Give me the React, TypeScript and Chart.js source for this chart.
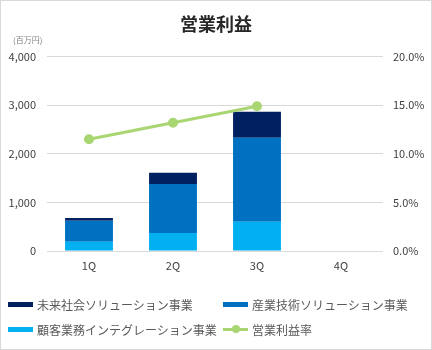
import React, { useEffect, useRef } from "react";
import { Chart, registerables } from "chart.js";

Chart.register(...registerables);

const categories = ["1Q", "2Q", "3Q", "4Q"];
const miraiShakai = [60, 230, 535, null];
const sangyoGijutsu = [430, 1010, 1730, null];
const kokyakuGyomu = [190, 370, 600, null];
const eigyoRiekiRitsu = [11.5, 13.2, 14.9, null];

const titleText = "営業利益";
const unitText = "(百万円)";
const seriesNames = ["未来社会ソリューション事業", "産業技術ソリューション事業", "顧客業務インテグレーション事業", "営業利益率"];

const COLORS = { dark: "#002060", mid: "#0070c0", light: "#00b0f0", green: "#a9d672" };
const FONT = "'Noto Sans CJK JP', 'Noto Sans', sans-serif";

export default function App() {
  const ref = useRef<HTMLCanvasElement>(null);

  useEffect(() => {
    document.body.style.margin = "0";
    const unitPlugin = {
      id: "unitLabel",
      afterDraw(chart: any) {
        const ctx = chart.ctx;
        ctx.save();
        ctx.font = `8px ${FONT}`;
        ctx.fillStyle = "#7f7f7f";
        ctx.textBaseline = "middle";
        ctx.textAlign = "left";
        ctx.fillText(unitText, 13, 40);
        ctx.restore();
      },
    };
    const chart = new Chart(ref.current!, {
      type: "bar",
      data: {
        labels: categories,
        datasets: [
          { type: "line", label: seriesNames[3], data: eigyoRiekiRitsu, yAxisID: "y1", borderColor: COLORS.green, backgroundColor: COLORS.green, borderWidth: 3, pointRadius: 3.5, pointBackgroundColor: COLORS.green, pointBorderColor: COLORS.green, order: 0 } as any,
          { label: seriesNames[2], data: kokyakuGyomu, backgroundColor: COLORS.light, yAxisID: "y", order: 1, barPercentage: 0.57, categoryPercentage: 1 },
          { label: seriesNames[1], data: sangyoGijutsu, backgroundColor: COLORS.mid, yAxisID: "y", order: 1, barPercentage: 0.57, categoryPercentage: 1 },
          { label: seriesNames[0], data: miraiShakai, backgroundColor: COLORS.dark, yAxisID: "y", order: 1, barPercentage: 0.57, categoryPercentage: 1 },
        ],
      },
      options: {
        responsive: false,
        animation: false,
        layout: { padding: { left: 0, right: 0, top: 0, bottom: 69 } },
        plugins: {
          legend: { display: false },
          tooltip: { enabled: false },
          title: {
            display: true,
            text: titleText,
            color: "#262626",
            font: { family: FONT, size: 18, weight: "bold" },
            padding: { top: 13, bottom: 22 },
          },
        },
        scales: {
          x: {
            stacked: true,
            grid: { display: false, drawTicks: false },
            border: { display: false },
            ticks: { color: "#404040", font: { family: FONT, size: 11 }, padding: 8 },
            afterFit: (s: any) => { s.height = 30; },
          },
          y: {
            stacked: true,
            position: "left",
            min: 0,
            max: 4000,
            ticks: { stepSize: 1000, color: "#404040", font: { family: FONT, size: 11 }, padding: 11, callback: (v: any) => Number(v).toLocaleString("en-US") },
            grid: { color: "#d9d9d9", drawTicks: false },
            border: { display: false },
            afterFit: (s: any) => { s.width = 47; },
          },
          y1: {
            position: "right",
            min: 0,
            max: 20,
            ticks: { stepSize: 5, color: "#404040", font: { family: FONT, size: 11 }, padding: 10, callback: (v: any) => Number(v).toFixed(1) + "%" },
            grid: { display: false, drawTicks: false },
            border: { display: false },
            afterFit: (s: any) => { s.width = 49; },
          },
        },
      },
      plugins: [unitPlugin],
    });
    return () => chart.destroy();
  }, []);

  const legendItems = [
    { label: seriesNames[0], color: COLORS.dark, line: false },
    { label: seriesNames[1], color: COLORS.mid, line: false },
    { label: seriesNames[2], color: COLORS.light, line: false },
    { label: seriesNames[3], color: COLORS.green, line: true },
  ];
  const colX = [8, 223];
  const rowY = [304, 329];

  return (
    <div style={{ position: "fixed", left: 0, top: 0, width: 432, height: 350, background: "#fff" }}>
      <canvas ref={ref} width={432} height={350} style={{ position: "absolute", left: 0, top: 0 }} />
      {legendItems.map((it, i) => {
        const x = colX[i % 2];
        const y = rowY[Math.floor(i / 2)];
        return (
          <div key={i} style={{ position: "absolute", left: x, top: y - 10, height: 20, display: "flex", alignItems: "center", fontFamily: FONT, fontSize: 12, color: "#595959", whiteSpace: "nowrap" }}>
            {it.line ? (
              <span style={{ position: "relative", width: 25, height: 8, marginRight: 4, display: "inline-block" }}>
                <span style={{ position: "absolute", left: 0, top: 2.5, width: 25, height: 3, background: it.color }} />
                <span style={{ position: "absolute", left: 8.5, top: 0, width: 8, height: 8, borderRadius: 4, background: it.color }} />
              </span>
            ) : (
              <span style={{ width: 25, height: 5, background: it.color, marginRight: 4, display: "inline-block" }} />
            )}
            <span>{it.label}</span>
          </div>
        );
      })}
      <div style={{ position: "absolute", left: 0, top: 0, width: 432, height: 350, boxSizing: "border-box", border: "1px solid #d9d9d9", pointerEvents: "none" }} />
    </div>
  );
}
